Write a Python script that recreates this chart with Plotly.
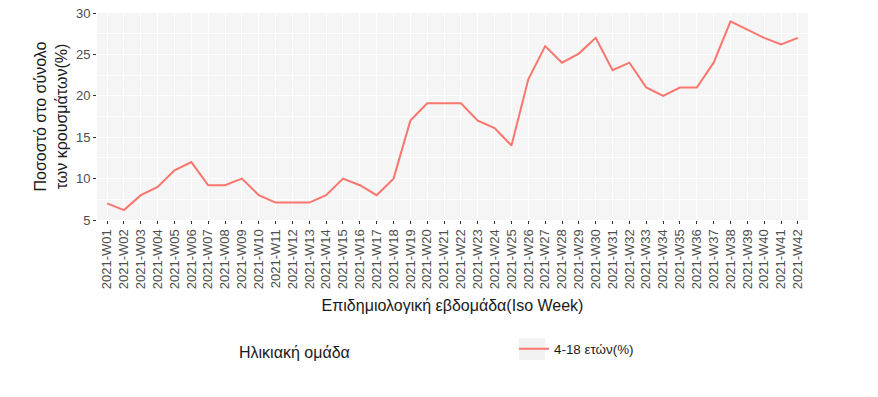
import plotly.graph_objects as go

weeks = [f"2021-W{i:02d}" for i in range(1, 43)]
values = [7, 6.2, 8, 9, 11, 12, 9.2, 9.2, 10, 8, 7.1, 7.1, 7.1, 8, 10, 9.2, 8, 10, 17, 19.1,
          19.1, 19.1, 17, 16.1, 14, 22, 26, 24, 25.1, 27, 23.1, 24, 21, 20, 21, 21, 24, 29, 28, 27, 26.2, 27]
series_name = "4-18 ετών(%)"
legend_title = "Ηλικιακή ομάδα"
x_title = "Επιδημιολογική εβδομάδα(Iso Week)"
y_title = "Ποσοστό στο σύνολο<br>των κρουσμάτων(%)"

W, H = 878, 397
L, T = 97, 13
R = W - 808
B = H - 220
pw, ph = W - L - R, H - T - B

def px(x):
    return (x - L) / pw

def py(y):
    return (H - B - y) / ph

fig = go.Figure()
fig.add_trace(go.Scatter(x=weeks, y=values, mode="lines", name=series_name,
                         line=dict(color="#F8766D", width=2), showlegend=True))

font = "Liberation Sans, Arial, sans-serif"
fig.update_layout(
    width=W, height=H,
    margin=dict(l=L, r=R, t=T, b=B, autoexpand=False),
    paper_bgcolor="white", plot_bgcolor="#F5F5F5",
    font=dict(family=font, color="#1A1A1A"),
    showlegend=True,
    legend=dict(orientation="h", x=px(514), xanchor="left", y=py(349), yanchor="middle",
                bgcolor="rgba(0,0,0,0)", font=dict(size=13.4, color="#1A1A1A"),
                itemwidth=30),
    xaxis=dict(type="category", categoryorder="array", categoryarray=weeks,
               range=[-0.6, len(weeks) - 1 + 0.6], tickangle=-90,
               tickfont=dict(size=13, color="#4D4D4D"),
               ticks="outside", ticklen=3, tickcolor="#333333", tickwidth=1,
               showgrid=True, gridcolor="white", gridwidth=1, zeroline=False, showline=False,
               title=dict(text=x_title, font=dict(size=16, color="#1A1A1A"), standoff=11)),
    yaxis=dict(range=[5, 30], tickvals=[5, 10, 15, 20, 25, 30],
               tickfont=dict(size=13, color="#4D4D4D"),
               ticks="outside", ticklen=3, tickcolor="#333333", tickwidth=1,
               showgrid=True, gridcolor="white", gridwidth=1, zeroline=False, showline=False,
               minor=dict(dtick=2.5, tick0=2.5, showgrid=True, gridcolor="white", gridwidth=0.5),
               title=dict(text=y_title, font=dict(size=16, color="#1A1A1A"), standoff=4)),
    shapes=[dict(type="rect", xref="paper", yref="paper", x0=px(519), x1=px(545),
                 y0=py(360), y1=py(338), fillcolor="#F2F2F2", line=dict(width=0), layer="below")],
    annotations=[dict(text=legend_title, xref="paper", yref="paper", x=px(237), y=py(352),
                      xanchor="left", yanchor="middle", showarrow=False,
                      font=dict(size=16, color="#1A1A1A"))],
)

fig.write_html("out.html", config={"displayModeBar": False},
               post_script="document.body.style.margin='0';")
